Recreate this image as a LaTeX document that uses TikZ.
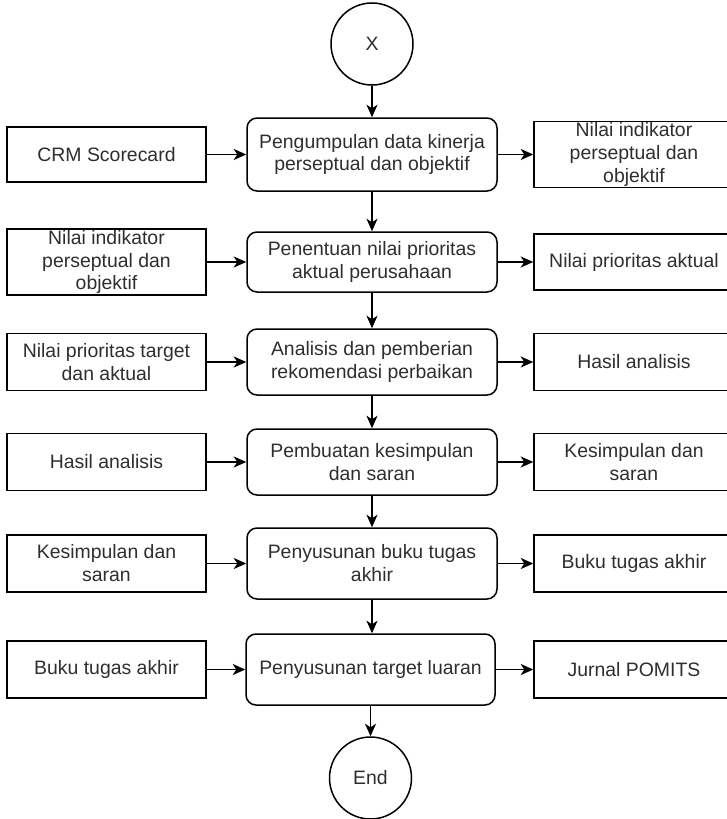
\documentclass[tikz,border=0pt]{standalone}
\usepackage{fontspec}
\setmainfont{Liberation Sans}
\usetikzlibrary{arrows.meta}

\tikzset{
  every node/.style={font=\fontsize{19.5}{23}\selectfont, text=black!82},
  box/.style={draw=black, line width=1.5bp, inner sep=0pt, align=center,
              minimum width=199bp, minimum height=57bp},
  outbox/.style={box, minimum width=200bp},
  proc/.style={box, rounded corners=10bp, minimum width=250bp},
  term/.style={draw=black, circle, line width=1.5bp, minimum size=82bp, inner sep=0pt},
  flow/.style={draw=black, line width=1.6bp,
               -{Stealth[length=12.5bp,width=11bp,inset=3.5bp]}},
}

\begin{document}
\begin{tikzpicture}[x=1bp, y=-1bp]
  % page frame (also cuts the output column at the right edge)
  \clip (0,0) rectangle (727,819);
  \useasboundingbox (0,0) rectangle (727,819);

  % start terminal
  \node[term] (start) at (372,44) {X};

  % step 1
  \node[proc, minimum height=73bp] (p1) at (372,154.5) {Pengumpulan data kinerja\\perseptual dan objektif};
  \node[box, minimum height=55bp]  (i1) at (106.5,154.5) {CRM Scorecard};
  \node[outbox, minimum height=66bp] (o1) at (634,154.5) {Nilai indikator\\perseptual dan\\objektif};

  % step 2
  \node[proc, minimum height=60bp] (p2) at (372,262) {Penentuan nilai prioritas\\aktual perusahaan};
  \node[box, minimum height=66bp]  (i2) at (106.5,262) {Nilai indikator\\perseptual dan\\objektif};
  \node[outbox, minimum height=56bp] (o2) at (634,262) {Nilai prioritas aktual};

  % step 3
  \node[proc, minimum height=66bp] (p3) at (372,362) {Analisis dan pemberian\\rekomendasi perbaikan};
  \node[box]    (i3) at (106.5,362) {Nilai prioritas target\\dan aktual};
  \node[outbox] (o3) at (634,362) {Hasil analisis};

  % step 4
  \node[proc, minimum height=66bp] (p4) at (372,462) {Pembuatan kesimpulan\\dan saran};
  \node[box]    (i4) at (106.5,462) {Hasil analisis};
  \node[outbox] (o4) at (634,462) {Kesimpulan dan\\saran};

  % step 5
  \node[proc, minimum height=71bp] (p5) at (372,563.5) {Penyusunan buku tugas\\akhir};
  \node[box]    (i5) at (106.5,563.5) {Kesimpulan dan\\saran};
  \node[outbox] (o5) at (634,563.5) {Buku tugas akhir};

  % step 6
  \node[proc, minimum height=71bp, minimum width=249bp] (p6) at (370.5,669.5) {Penyusunan target luaran};
  \node[box]    (i6) at (106.5,669.5) {Buku tugas akhir};
  \node[outbox] (o6) at (634,669.5) {Jurnal POMITS};

  % end terminal
  \node[term] (end) at (370.5,778) {End};

  % main flow
  \draw[flow] (start.south) -- (p1.north);
  \draw[flow] (p1.south) -- (p2.north);
  \draw[flow] (p2.south) -- (p3.north);
  \draw[flow] (p3.south) -- (p4.north);
  \draw[flow] (p4.south) -- (p5.north);
  \draw[flow] (p5.south) -- (p5.south |- p6.north);
  \draw[flow] (p6.south) -- (end.north);

  % inputs and outputs
  \foreach \k in {1,...,6} {
    \draw[flow] (i\k.east) -- (p\k.west);
    \draw[flow] (p\k.east) -- (o\k.west);
  }
\end{tikzpicture}
\end{document}
